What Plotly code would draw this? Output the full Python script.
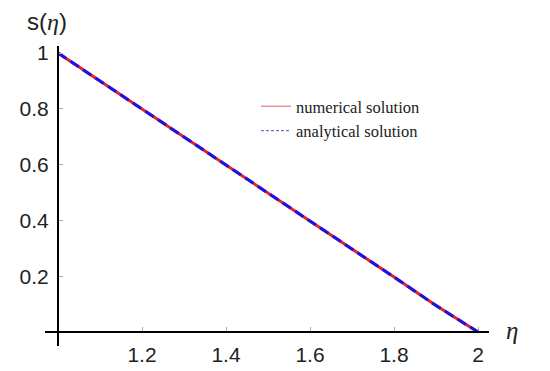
import plotly.graph_objects as go

# data
eta = [1.0, 1.1, 1.2, 1.3, 1.4, 1.5, 1.6, 1.7, 1.8, 1.9, 2.0]
s_numerical = [1.0, 0.9, 0.8, 0.7, 0.6, 0.5, 0.4, 0.3, 0.197, 0.095, 0.0]
s_analytical = [1.0, 0.9, 0.8, 0.7, 0.6, 0.5, 0.4, 0.3, 0.197, 0.095, 0.0]

x_ticks = [1.2, 1.4, 1.6, 1.8, 2.0]
x_ticktext = ["1.2", "1.4", "1.6", "1.8", "2"]
y_ticks = [0.2, 0.4, 0.6, 0.8, 1.0]
y_ticktext = ["0.2", "0.4", "0.6", "0.8", "1"]

W, H = 550, 371
# plot box in pixels
L, R, T, B = 37, 481, 38, 338
x0_px, px_per_x = 50, 420.0
y0_px, px_per_y = 324, 279.0

xr = [1 + (L - x0_px) / px_per_x, 1 + (R - x0_px) / px_per_x]
yr = [(y0_px - B) / px_per_y, (y0_px - T) / px_per_y]
xpos = (B - y0_px) / (B - T)          # where y = 0, in paper fraction
ypos = (x0_px - L) / (R - L)          # where x = 1, in paper fraction

RED = "rgb(235,30,40)"
BLUE = "rgb(20,20,235)"

fig = go.Figure()
fig.add_trace(go.Scatter(x=eta, y=s_numerical, mode="lines", showlegend=False,
                         line=dict(color=RED, width=3)))
fig.add_trace(go.Scatter(x=eta, y=s_analytical, mode="lines", showlegend=False,
                         line=dict(color=BLUE, width=3, dash="10px,5px")))
# legend entries (thin line samples as in the reference)
fig.add_trace(go.Scatter(x=[None], y=[None], mode="lines", name="numerical solution",
                         line=dict(color="rgb(230,120,120)", width=1.2)))
fig.add_trace(go.Scatter(x=[None], y=[None], mode="lines", name="analytical solution",
                         line=dict(color="rgb(110,110,220)", width=1.2, dash="3px,2px")))

tickfont = dict(family="Liberation Sans, Arial, sans-serif", size=21, color="#222")
fig.update_layout(
    width=W, height=H,
    margin=dict(l=L, r=W - R, t=T, b=H - B),
    paper_bgcolor="white", plot_bgcolor="white",
    xaxis=dict(range=xr, anchor="free", position=xpos, showline=True, linecolor="black",
               linewidth=2, showgrid=False, zeroline=False, tickvals=x_ticks,
               ticktext=x_ticktext, ticks="inside", ticklen=4, tickcolor="#aaa",
               tickwidth=1, tickfont=tickfont, ticklabelstandoff=4),
    yaxis=dict(range=yr, anchor="free", position=ypos, showline=True, linecolor="black",
               linewidth=2, showgrid=False, zeroline=False, tickvals=y_ticks,
               ticktext=y_ticktext, ticks="inside", ticklen=4, tickcolor="#aaa",
               tickwidth=1, tickfont=tickfont, ticklabelstandoff=4),
    legend=dict(x=(248 - L) / (R - L), y=1 - (81 - T) / (B - T), xanchor="left", yanchor="top",
                bgcolor="rgba(0,0,0,0)",
                font=dict(family="Liberation Serif, Times New Roman, serif", size=16.5, color="#222"),
                tracegroupgap=0, itemwidth=30),
    annotations=[
        dict(xref="paper", yref="paper", x=(17 - L) / (R - L), y=1 - (14 - T) / (B - T),
             xanchor="left", yanchor="middle", showarrow=False,
             text="s(<span style=\"font-family:'Liberation Serif';font-style:italic\">η</span>)",
             font=dict(family="Liberation Sans, Arial, sans-serif", size=24, color="#222")),
        dict(xref="paper", yref="paper", x=(496 - L) / (R - L), y=1 - (322 - T) / (B - T),
             xanchor="left", yanchor="middle", showarrow=False, text="<i>η</i>",
             font=dict(family="Liberation Serif, Times New Roman, serif", size=25, color="#222")),
    ],
)

fig.write_html("out.html")
